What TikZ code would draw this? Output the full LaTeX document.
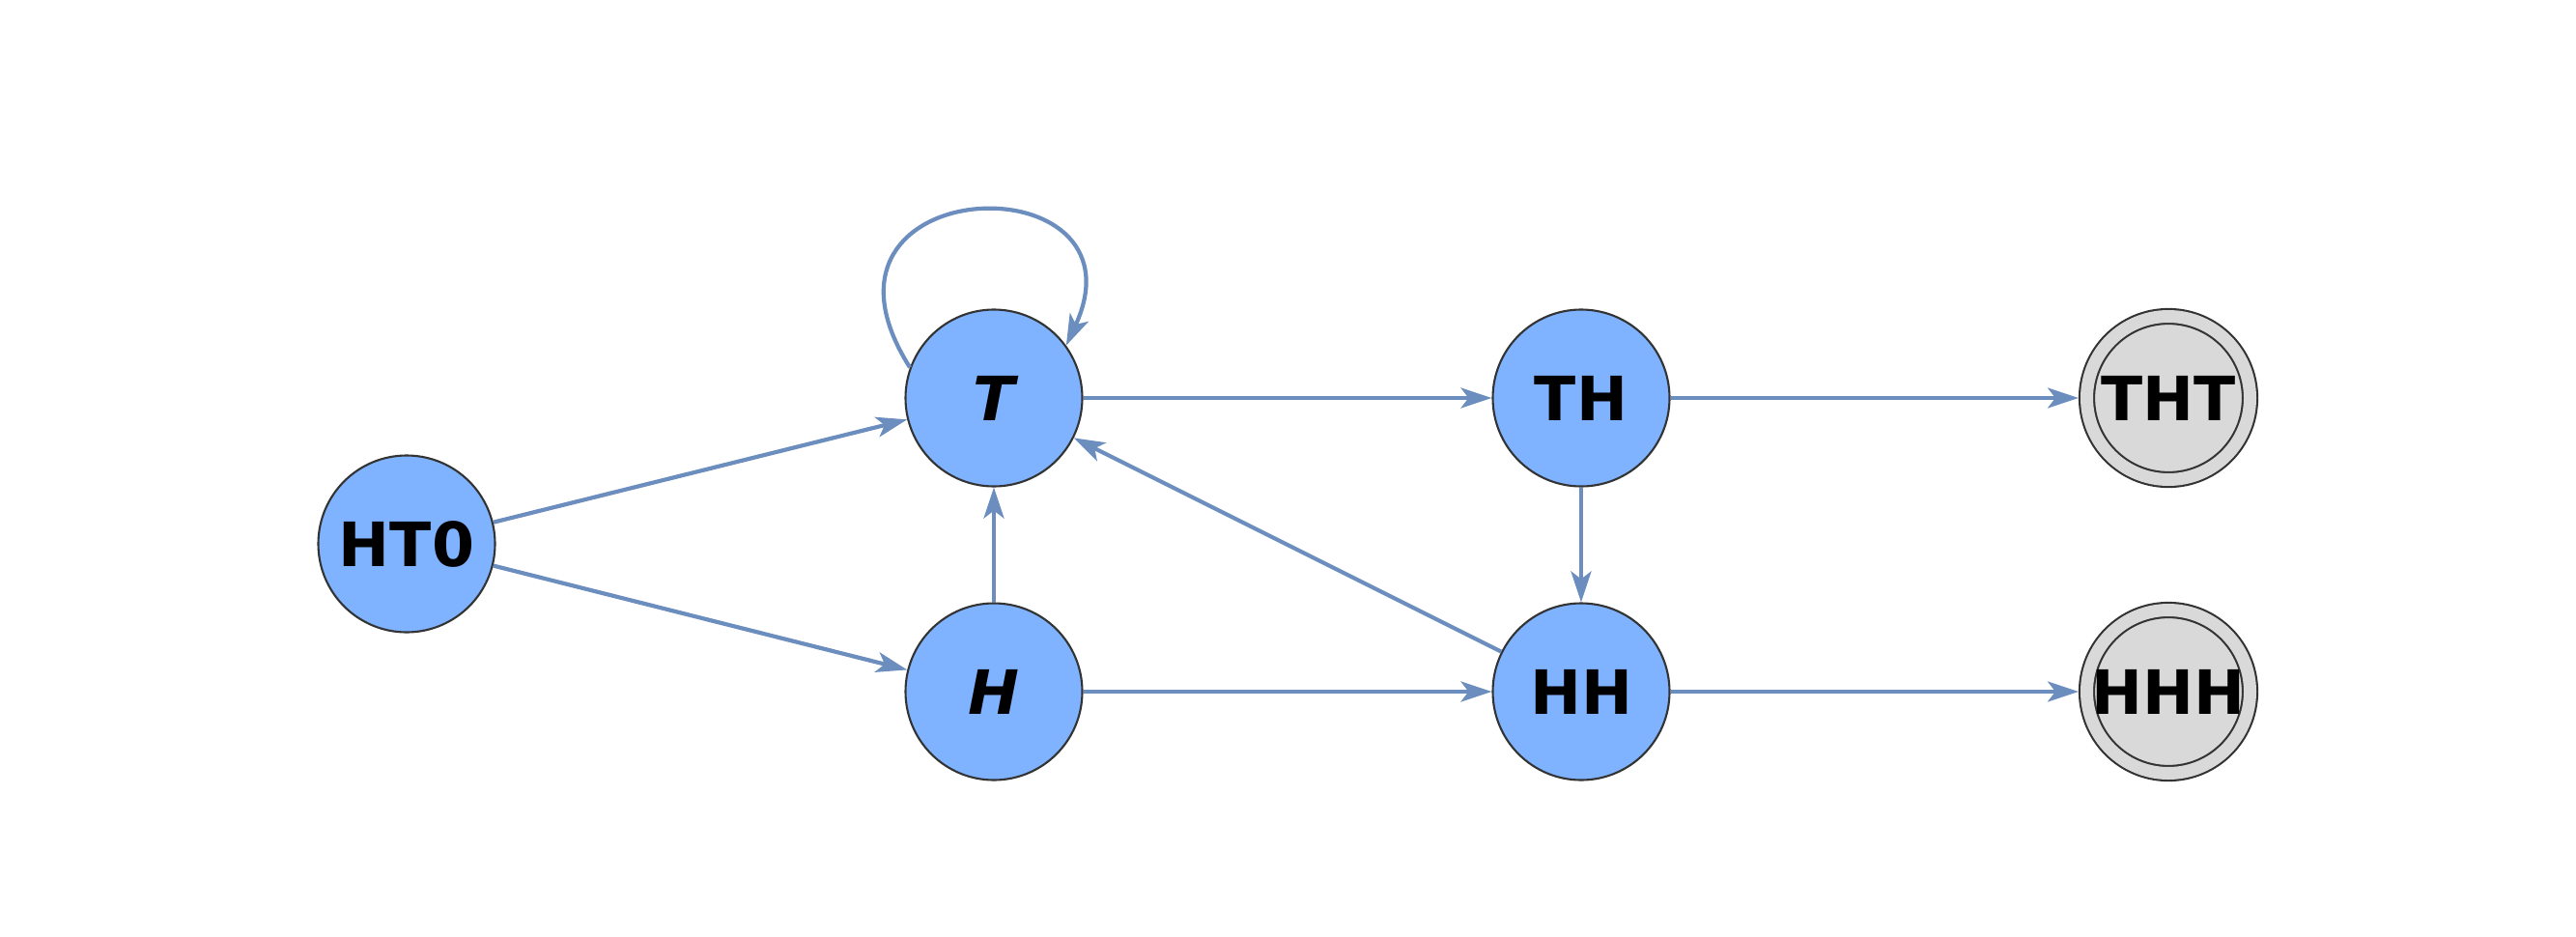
\documentclass[tikz,border=0pt]{standalone}
\usepackage{fontspec}
\setmainfont{DejaVu Sans}
\usepackage{tikz}
\usetikzlibrary{arrows.meta}
\definecolor{statefill}{HTML}{7FB3FF}
\definecolor{edgeblue}{HTML}{6C8EBF}
\definecolor{rimgray}{HTML}{333333}
\definecolor{endfill}{HTML}{D9D9D9}

\begin{document}
\begin{tikzpicture}[
  state/.style={circle,draw=rimgray,line width=0.6pt,fill=statefill,minimum size=1.83cm,inner sep=0pt,font=\fontsize{18}{20}\selectfont\bfseries},
  final/.style={state,fill=endfill,double=endfill,double distance=0.13cm,minimum size=1.69cm,outer sep=0.085cm},
  edge/.style={draw=edgeblue,line width=1.2pt,-{Stealth[length=0.32cm,width=0.21cm,inset=0.08cm]}}
]
\useasboundingbox (0,0) rectangle (26.67,-9.70);
\node[state] (HT0) at (4.21,-5.63) {HT0};
\node[state] (T) at (10.29,-4.12) {\itshape T};
\node[state] (H) at (10.29,-7.16) {\itshape H};
\node[state] (TH) at (16.37,-4.12) {TH};
\node[state] (HH) at (16.37,-7.16) {HH};
\node[final] (THT) at (22.45,-4.12) {THT};
\node[final] (HHH) at (22.45,-7.16) {HHH};
\draw[edge] (HT0)--(T);
\draw[edge] (HT0)--(H);
\draw[edge] (H)--(T);
\draw[edge] (T)--(TH);
\draw[edge] (TH)--(HH);
\draw[edge] (H)--(HH);
\draw[edge] (HH)--(T);
\draw[edge] (TH)--(THT);
\draw[edge] (HH)--(HHH);
\draw[edge] (T.160) .. controls +(-1.30,2.05) and +(0.90,1.95) .. (T.36);
\end{tikzpicture}
\end{document}
